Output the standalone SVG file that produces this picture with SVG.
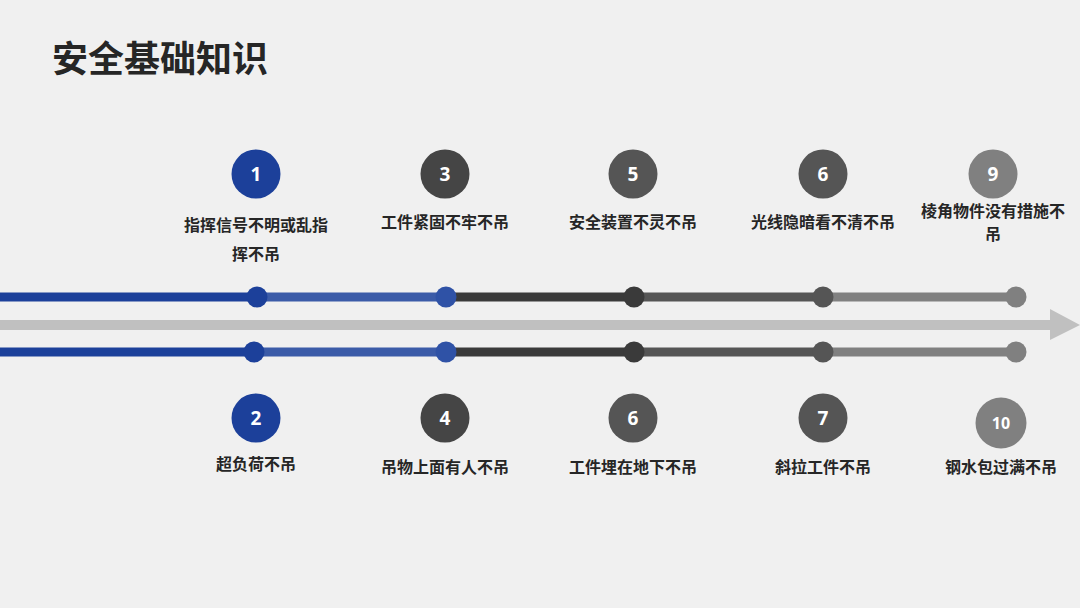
<svg xmlns="http://www.w3.org/2000/svg" width="1080" height="608" viewBox="0 0 1080 608">
<style>
.t{font-family:"Noto Sans CJK SC","Microsoft YaHei",sans-serif;font-weight:700;fill:#262626;text-anchor:middle;font-size:16px}
.n{font-family:"Open Sans","Liberation Sans",sans-serif;font-weight:700;fill:#ffffff;text-anchor:middle;font-size:19px}
.ln{stroke-width:9;fill:none}
</style>
<rect width="1080" height="608" fill="#f0f0f0"/>
<text x="52" y="72" font-family="Noto Sans CJK SC, sans-serif" font-weight="700" font-size="36" fill="#262626">安全基础知识</text>
<g id="connectors">
<rect x="0" y="320" width="1052" height="10" fill="#c0c0c0"/>
<polygon points="1050,309 1080,325 1050,340" fill="#c0c0c0"/>
<line class="ln" x1="0" y1="297" x2="257" y2="297" stroke="#1c409a"/>
<line class="ln" x1="257" y1="297" x2="446" y2="297" stroke="#3b5ba8"/>
<line class="ln" x1="446" y1="297" x2="634" y2="297" stroke="#3a3a3a"/>
<line class="ln" x1="634" y1="297" x2="823" y2="297" stroke="#555555"/>
<line class="ln" x1="823" y1="297" x2="1016" y2="297" stroke="#808080"/>
<line class="ln" x1="0" y1="352" x2="254" y2="352" stroke="#1c409a"/>
<line class="ln" x1="254" y1="352" x2="446" y2="352" stroke="#3b5ba8"/>
<line class="ln" x1="446" y1="352" x2="634" y2="352" stroke="#3a3a3a"/>
<line class="ln" x1="634" y1="352" x2="823" y2="352" stroke="#555555"/>
<line class="ln" x1="823" y1="352" x2="1016" y2="352" stroke="#808080"/>
<circle cx="257" cy="297" r="10.5" fill="#1c409a"/>
<circle cx="446" cy="297" r="10.5" fill="#2f52a6"/>
<circle cx="634" cy="297" r="10.5" fill="#3a3a3a"/>
<circle cx="823" cy="297" r="10.5" fill="#555555"/>
<circle cx="1016" cy="297" r="10.5" fill="#808080"/>
<circle cx="254" cy="352" r="10.5" fill="#1c409a"/>
<circle cx="446" cy="352" r="10.5" fill="#2f52a6"/>
<circle cx="634" cy="352" r="10.5" fill="#3a3a3a"/>
<circle cx="823" cy="352" r="10.5" fill="#555555"/>
<circle cx="1016" cy="352" r="10.5" fill="#808080"/>
</g>
<g id="n1"><circle cx="256" cy="174" r="24.5" fill="#1c409a"/><text class="n" x="256" y="181">1</text>
<text class="t" x="256" y="231">指挥信号不明或乱指</text><text class="t" x="256" y="260">挥不吊</text></g>
<g id="n3"><circle cx="445" cy="174" r="24.5" fill="#454545"/><text class="n" x="445" y="181">3</text>
<text class="t" x="445" y="228">工件紧固不牢不吊</text></g>
<g id="n5"><circle cx="633" cy="174" r="24.5" fill="#555555"/><text class="n" x="633" y="181">5</text>
<text class="t" x="633" y="228">安全装置不灵不吊</text></g>
<g id="n6a"><circle cx="823" cy="174" r="24.5" fill="#555555"/><text class="n" x="823" y="181">6</text>
<text class="t" x="823" y="228">光线隐暗看不清不吊</text></g>
<g id="n9"><circle cx="993" cy="174" r="24.5" fill="#808080"/><text class="n" x="993" y="181">9</text>
<text class="t" x="993" y="217">棱角物件没有措施不</text><text class="t" x="993" y="240">吊</text></g>
<g id="n2"><circle cx="256" cy="418" r="24.5" fill="#1c409a"/><text class="n" x="256" y="425">2</text>
<text class="t" x="256" y="470">超负荷不吊</text></g>
<g id="n4"><circle cx="445" cy="418" r="24.5" fill="#454545"/><text class="n" x="445" y="425">4</text>
<text class="t" x="445" y="473">吊物上面有人不吊</text></g>
<g id="n6b"><circle cx="633" cy="418" r="24.5" fill="#555555"/><text class="n" x="633" y="425">6</text>
<text class="t" x="633" y="473">工件埋在地下不吊</text></g>
<g id="n7"><circle cx="823" cy="418" r="24.5" fill="#555555"/><text class="n" x="823" y="425">7</text>
<text class="t" x="823" y="473">斜拉工件不吊</text></g>
<g id="n10"><circle cx="1001" cy="423" r="25.5" fill="#808080"/><text class="n" x="1001" y="429" style="font-size:16px">10</text>
<text class="t" x="1001" y="473">钢水包过满不吊</text></g>
</svg>
